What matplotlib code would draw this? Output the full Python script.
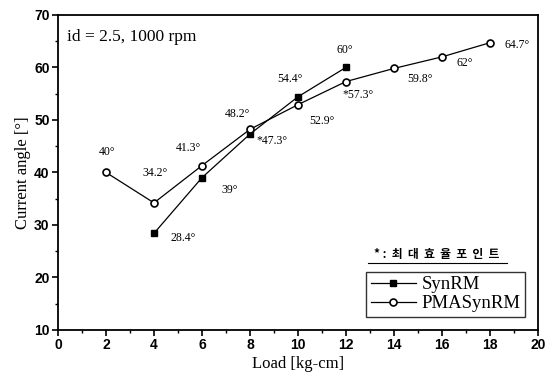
import matplotlib
matplotlib.use("Agg")
import matplotlib.pyplot as plt
from matplotlib.lines import Line2D
from matplotlib.ticker import MultipleLocator

# Load [kg-cm] vs. current angle [deg]
synrm_load = [4, 6, 8, 10, 12]
synrm_angle = [28.4, 39, 47.3, 54.4, 60]
pma_load = [2, 4, 6, 8, 10, 12, 14, 16, 18]
pma_angle = [40, 34.2, 41.3, 48.2, 52.9, 57.3, 59.8, 62, 64.7]

# points of maximum efficiency (marked with *)
synrm_best = 8
pma_best = 12

# label offsets in pixels relative to each marker
synrm_offsets = [(29, -5), (28, -12), (22, -7), (-8, 18), (-1, 17)]
pma_offsets = [(1, 20), (1, 30), (-14, 18), (-12, 15), (24, -16),
               (12, -13), (26, -11), (23, -6), (27, -2)]

serif = "Liberation Serif"
sans = "Liberation Sans"

fig = plt.figure(figsize=(5.47, 3.81), dpi=100)
ax = fig.add_axes([0.106, 0.134, 0.8775, 0.827])

ax.plot(synrm_load, synrm_angle, "-", color="black", lw=0.9,
        marker="s", ms=5, mfc="black", mec="black", label="SynRM")
ax.plot(pma_load, pma_angle, "-", color="black", lw=0.9,
        marker="o", ms=5, mfc="white", mec="black", mew=1.2, label="PMASynRM")


def fmt(v):
    return f"{v:g}°"


for x, y, (dx, dy) in zip(synrm_load, synrm_angle, synrm_offsets):
    txt = ("*" if x == synrm_best else "") + fmt(y)
    ax.annotate(txt, (x, y), xytext=(dx, dy), textcoords="offset pixels",
                ha="center", va="center", fontsize=8.5, family=serif)
for x, y, (dx, dy) in zip(pma_load, pma_angle, pma_offsets):
    txt = ("*" if x == pma_best else "") + fmt(y)
    ax.annotate(txt, (x, y), xytext=(dx, dy), textcoords="offset pixels",
                ha="center", va="center", fontsize=8.5, family=serif)

ax.set_xlim(0, 20)
ax.set_ylim(10, 70)
ax.xaxis.set_major_locator(MultipleLocator(2))
ax.xaxis.set_minor_locator(MultipleLocator(1))
ax.yaxis.set_major_locator(MultipleLocator(10))
ax.yaxis.set_minor_locator(MultipleLocator(5))
ax.tick_params(which="major", direction="out", length=4, width=1.2,
               labelsize=10, pad=2)
ax.tick_params(which="minor", direction="out", length=2, width=1)
for lab in ax.get_xticklabels() + ax.get_yticklabels():
    lab.set_fontfamily(sans)
    lab.set_fontweight("bold")
for sp in ax.spines.values():
    sp.set_linewidth(1.3)

ax.set_xlabel("Load [kg-cm]", family=serif, fontsize=12, labelpad=3)
ax.set_ylabel("Current angle [°]", family=serif, fontsize=12, labelpad=2)

ax.text(0.018, 0.955, "id = 2.5, 1000 rpm", transform=ax.transAxes,
        ha="left", va="top", family=serif, fontsize=12.5)

# note on the max-efficiency marker
ax.text(0.79, 0.22, "* :  최  대  효  율  포  인  트", transform=ax.transAxes,
        ha="center", va="bottom", fontsize=8.5, fontweight="bold",
        family=["Noto Sans CJK KR", "DejaVu Sans"])
ax.add_line(Line2D([0.645, 0.935], [0.213, 0.213], transform=ax.transAxes,
                   color="black", lw=0.8))

leg = ax.legend(loc="lower right", bbox_to_anchor=(0.973, 0.041),
                prop={"family": serif, "size": 13.5}, frameon=True,
                fancybox=False, edgecolor="black", handlelength=2.4,
                handletextpad=0.3, borderpad=0.25, labelspacing=0.1,
                borderaxespad=0)
leg.get_frame().set_linewidth(1.0)

fig.savefig("out.png", dpi=100)
